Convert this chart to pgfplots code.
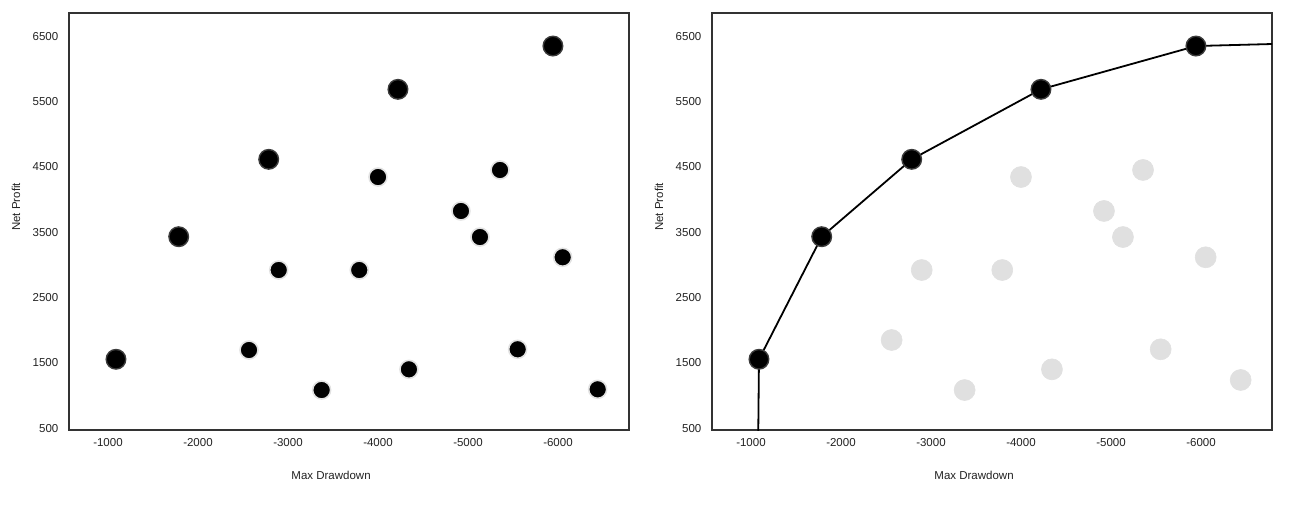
\documentclass[border=0pt]{standalone}
\usepackage{fontspec}
\setmainfont{Liberation Sans}
\usepackage{pgfplots}
\pgfplotsset{compat=1.18}
\definecolor{axisc}{HTML}{333333}
\definecolor{txtc}{HTML}{222222}
\definecolor{halo}{HTML}{E2E2E2}
\definecolor{lightpt}{HTML}{E0E0E0}
\definecolor{ringc}{HTML}{3C3C3C}
\begin{document}
\fontsize{11.5}{13}\selectfont
\begin{tikzpicture}[x=1pt,y=1pt]
\useasboundingbox (0,0) rectangle (1296,504);
\pgfplotsset{
 common/.style={
  width=560pt, height=417pt, scale only axis,
  xmin=-6789, xmax=-567, ymin=471, ymax=6857,
  x dir=reverse,
  xtick={-1000,-2000,-3000,-4000,-5000,-6000},
  ytick={500,1500,2500,3500,4500,5500,6500},
  major tick length=0pt,
  axis line style={draw=axisc, line width=1.7pt},
  tick label style={font=\fontsize{11.5}{13}\selectfont, text=txtc},
  /pgf/number format/assume math mode=true,
  /pgf/number format/1000 sep={},
  xticklabel style={anchor=center, yshift=-13pt},
  yticklabel style={anchor=east, inner sep=0pt, xshift=-10.5pt},
  xlabel={Max Drawdown}, ylabel={Net Profit},
  label style={font=\fontsize{11.5}{13}\selectfont, text=txtc},
  xlabel style={at={(axis description cs:0.468,-0.110)}, anchor=center},
  ylabel style={at={(axis description cs:-0.0946,0.535)}, anchor=center},
 },
 bigpt/.style={only marks, draw=ringc, fill=black, mark=*, mark size=9.8pt, mark options={fill=black, draw=ringc, line width=1.4pt}},
 smallpt/.style={only marks, draw=halo, fill=black, mark=*, mark size=9pt, mark options={fill=black, draw=halo, line width=1.6pt}},
 greypt/.style={only marks, draw=lightpt, fill=lightpt, mark=*, mark size=10.5pt, mark options={fill=lightpt, draw=lightpt, line width=0.6pt}},
}
% Left panel
\begin{axis}[common, at={(69pt,74pt)}]
\addplot[smallpt] coordinates {
 (-2567,1696) (-2897,2921) (-3374,1083) (-3792,2921) (-4000,4345) (-4344,1400)
 (-4922,3825) (-5133,3426) (-5356,4453) (-5552,1707) (-6052,3116) (-6441,1094)
};
\addplot[bigpt] coordinates {
 (-1089,1554) (-1786,3431) (-2786,4616) (-4222,5688) (-5944,6351)
};
\end{axis}
% Right panel
\begin{axis}[common, at={(712pt,74pt)}]
\addplot[greypt] coordinates {
 (-2563,1849) (-2897,2921) (-3374,1083) (-3792,2921) (-4000,4345) (-4344,1400)
 (-4922,3825) (-5133,3426) (-5356,4453) (-5552,1707) (-6052,3116) (-6441,1237)
};
\addplot[black, line width=1.8pt, no marks] coordinates {
 (-1078,0) (-1089,1554) (-1786,3431) (-2786,4616) (-4222,5688) (-5944,6351) (-7200,6397)
};
\addplot[bigpt] coordinates {
 (-1089,1554) (-1786,3431) (-2786,4616) (-4222,5688) (-5944,6351)
};
\end{axis}
\end{tikzpicture}
\end{document}
